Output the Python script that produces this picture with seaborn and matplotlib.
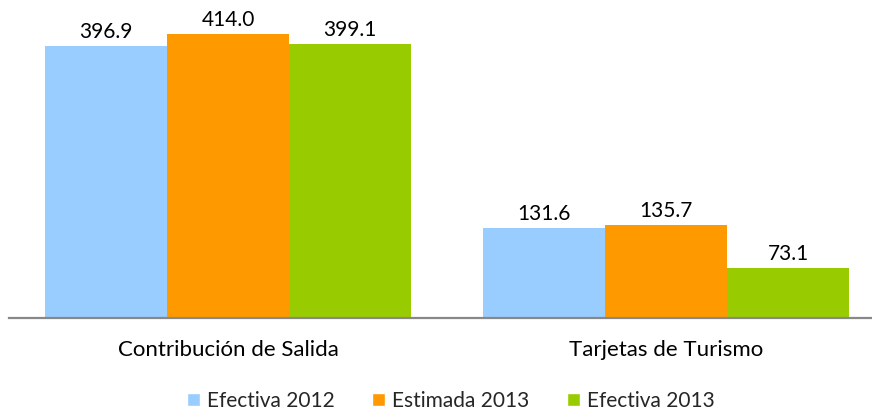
import matplotlib
matplotlib.use("Agg")
import matplotlib.pyplot as plt
import seaborn as sns
import pandas as pd

categories = ["Contribución de Salida", "Tarjetas de Turismo"]
series = ["Efectiva 2012", "Estimada 2013", "Efectiva 2013"]
efectiva_2012 = [396.9, 131.6]
estimada_2013 = [414.0, 135.7]
efectiva_2013 = [399.1, 73.1]
colors = ["#99CCFF", "#FF9900", "#99CC00"]

rows = []
for name, vals in zip(series, [efectiva_2012, estimada_2013, efectiva_2013]):
    for cat, v in zip(categories, vals):
        rows.append({"categoria": cat, "serie": name, "valor": v})
df = pd.DataFrame(rows)

sns.set_theme(style="white")
plt.rcParams["font.family"] = ["Lato", "DejaVu Sans"]

fig = plt.figure(figsize=(8.72, 4.13), dpi=100)
ax = fig.add_axes([9 / 872, 95 / 413, 863 / 872, 308 / 413])

sns.barplot(data=df, x="categoria", y="valor", hue="serie",
            hue_order=series, order=categories, palette=colors,
            width=0.836, saturation=1, ax=ax, legend=True)

for container in ax.containers:
    for bar in container:
        bar.set_edgecolor("none")
    ax.bar_label(container, fmt="%.1f", padding=3, fontsize=15, color="#000000")

ax.set_xlim(-0.5, 1.47)
ax.set_ylim(0, 449)
ax.set_xlabel("")
ax.set_ylabel("")
ax.set_yticks([])
for side in ["top", "right", "left"]:
    ax.spines[side].set_visible(False)
ax.spines["bottom"].set_color("#888888")
ax.spines["bottom"].set_linewidth(1.6)
ax.tick_params(axis="x", length=0, pad=16, labelsize=16, colors="#000000")

handles, labels = ax.get_legend_handles_labels()
ax.get_legend().remove()
fig.legend(handles, labels, loc="center", bbox_to_anchor=(451 / 872, 12 / 413),
           ncol=3, frameon=False, fontsize=15, handlelength=0.62,
           handleheight=0.62, handletextpad=0.35, columnspacing=1.8)

fig.savefig("out.png", dpi=100)
